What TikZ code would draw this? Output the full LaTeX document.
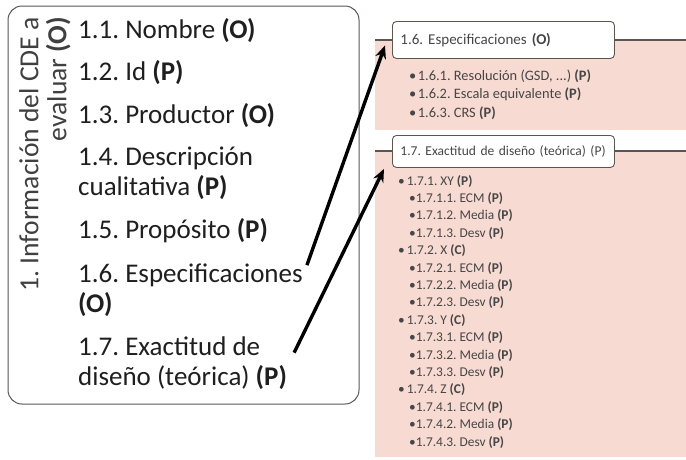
\documentclass[tikz,border=0pt]{standalone}
\usepackage{fontspec}
\setmainfont{Carlito}
\frenchspacing
\usetikzlibrary{arrows.meta,positioning}
\definecolor{panelpink}{RGB}{247,218,210}
\definecolor{rimgray}{RGB}{92,86,82}
\definecolor{txtgray}{RGB}{70,70,70}

\begin{document}
\begin{tikzpicture}[x=1pt, y=-1pt, >=Stealth,
  lbl/.style={anchor=base west, inner sep=0pt, align=left, text=black!88,
    font=\fontsize{27}{30}\selectfont},
  hdr/.style={draw=rimgray, line width=0.9pt, rounded corners=4pt, fill=white,
    anchor=north west, text width=206pt, inner xsep=8pt, align=left, text=txtgray},
  itm/.style={anchor=base west, inner sep=0pt, text=txtgray},
  lnk/.style={->, line width=3.4pt, arrows={-Stealth[length=13pt,width=11pt]}}]
\useasboundingbox (0,0) rectangle (686,459);
% left box with the rotated title
\draw[rimgray, line width=1pt, rounded corners=14pt, fill=white] (8,6) rectangle (359,404);
\node[rotate=90, anchor=north east, inner sep=0pt, align=right, text=black!75,
  font=\fontsize{27.6}{28}\selectfont] (ttl) at (19,17)
  {1. Información del CDE a\\evaluar \textbf{(O)}};
% fields of the left box (two-line ones sit on their last baseline)
\node[lbl] (i1) at (78,38) {1.1. Nombre \textbf{(O)}};
\node[lbl] (i2) at (78,80) {1.2. Id \textbf{(P)}};
\node[lbl] (i3) at (78,123) {1.3. Productor \textbf{(O)}};
\node[lbl] (i4) at (78,195) {1.4. Descripción\\cualitativa \textbf{(P)}};
\node[lbl] (i5) at (78,238) {1.5. Propósito \textbf{(P)}};
\node[lbl] (i6) at (78,312) {1.6. Especificaciones\\\textbf{(O)}};
\node[lbl] (i7) at (78,385) {1.7. Exactitud de\\diseño (teórica) \textbf{(P)}};
% panel 1.6
\fill[panelpink] (375,40) rectangle (686,130);
\draw[rimgray, line width=1.6pt] (375,40) -- (686,40);
\node[hdr, minimum height=37pt, font=\fontsize{15}{18}\selectfont] (h16) at (392,21)
  {1.6. Especificaciones \textbf{(O)}};
\begin{scope}[font=\fontsize{14.4}{18}\selectfont]
\node[itm] (s1) at (409,80) {\textbullet\hspace{1.5pt}1.6.1. Resolución (GSD, ...) \textbf{(P)}};
\node[itm] (s2) at (409,98.5) {\textbullet\hspace{1.5pt}1.6.2. Escala equivalente \textbf{(P)}};
\node[itm] (s3) at (409,117) {\textbullet\hspace{1.5pt}1.6.3. CRS \textbf{(P)}};
\end{scope}
% panel 1.7
\fill[panelpink] (375,151) rectangle (686,457);
\draw[rimgray, line width=1.6pt] (375,151) -- (686,151);
\node[hdr, minimum height=32pt, font=\fontsize{13.5}{16}\selectfont] (h17) at (392,135)
  {1.7. Exactitud de diseño (teórica) (P)};
\begin{scope}[font=\fontsize{13.4}{16}\selectfont]
\node[itm] (e1) at (398,185) {\textbullet\hspace{2pt}1.7.1. XY \textbf{(P)}};
\node[itm] (e11) at (409,202.4) {\textbullet1.7.1.1. ECM \textbf{(P)}};
\node[itm] (e12) at (409,219.8) {\textbullet1.7.1.2. Media \textbf{(P)}};
\node[itm] (e13) at (409,237.2) {\textbullet1.7.1.3. Desv \textbf{(P)}};
\node[itm] (e2) at (398,254.6) {\textbullet\hspace{2pt}1.7.2. X \textbf{(C)}};
\node[itm] (e21) at (409,272) {\textbullet1.7.2.1. ECM \textbf{(P)}};
\node[itm] (e22) at (409,289.4) {\textbullet1.7.2.2. Media \textbf{(P)}};
\node[itm] (e23) at (409,306.8) {\textbullet1.7.2.3. Desv \textbf{(P)}};
\node[itm] (e3) at (398,324.2) {\textbullet\hspace{2pt}1.7.3. Y \textbf{(C)}};
\node[itm] (e31) at (409,341.6) {\textbullet1.7.3.1. ECM \textbf{(P)}};
\node[itm] (e32) at (409,359) {\textbullet1.7.3.2. Media \textbf{(P)}};
\node[itm] (e33) at (409,376.4) {\textbullet1.7.3.3. Desv \textbf{(P)}};
\node[itm] (e4) at (398,393.8) {\textbullet\hspace{2pt}1.7.4. Z \textbf{(C)}};
\node[itm] (e41) at (409,411.2) {\textbullet1.7.4.1. ECM \textbf{(P)}};
\node[itm] (e42) at (409,428.6) {\textbullet1.7.4.2. Media \textbf{(P)}};
\node[itm] (e43) at (409,446) {\textbullet1.7.4.3. Desv \textbf{(P)}};
\end{scope}
% links from the fields to their panels
\draw[lnk] ([xshift=4pt,yshift=-2pt]i6.north east) -- ([xshift=-7pt,yshift=-5.5pt]h16.west);
\draw[lnk] ([xshift=7pt,yshift=10pt]i7.east) -- ([xshift=-8pt,yshift=-1pt]h17.south west);
\end{tikzpicture}
\end{document}
